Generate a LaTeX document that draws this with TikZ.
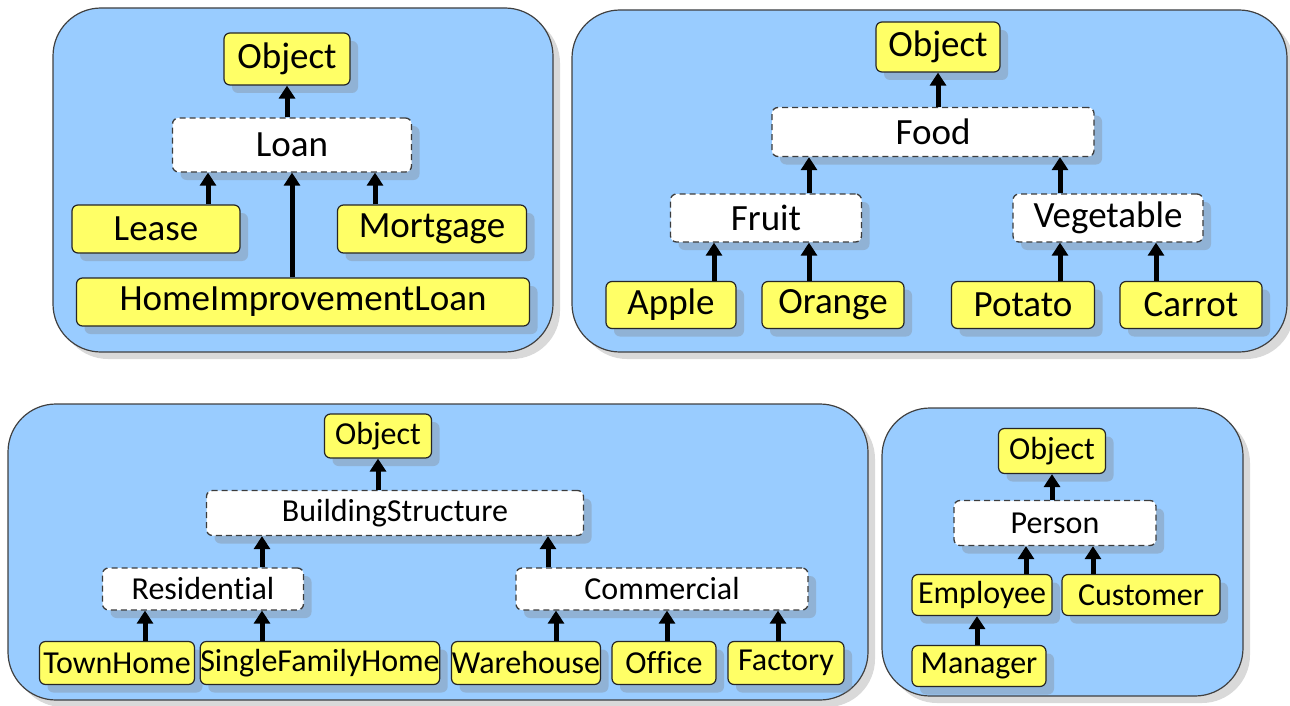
\documentclass[tikz,border=0pt]{standalone}
\usepackage{fontspec}
\setmainfont{Carlito}[Ligatures=NoCommon]
\usepackage{tikz}
\usetikzlibrary{arrows.meta,shadows}
\definecolor{panelblue}{RGB}{153,204,255}
\definecolor{nodeyellow}{RGB}{255,255,102}
\definecolor{dashgray}{RGB}{60,60,60}
\tikzset{every picture/.style={line width=0.75pt}}

\begin{document}
\begin{tikzpicture}[x=1pt,y=1pt,yscale=-1,xscale=1,
  panel/.style={draw=black!75, line width=1.2pt, fill=panelblue, rounded corners=48pt,
    drop shadow={shadow xshift=7pt, shadow yshift=-7pt, opacity=0.3}},
  cls/.style={draw=black!85, line width=1.2pt, fill=nodeyellow, rounded corners=6pt, inner sep=0pt,
    drop shadow={shadow xshift=8pt, shadow yshift=-8pt, opacity=0.33}},
  abs/.style={draw=dashgray, line width=1.3pt, dash pattern=on 6pt off 4pt, fill=white, rounded corners=6pt, inner sep=0pt,
    drop shadow={shadow xshift=8pt, shadow yshift=-8pt, opacity=0.33}},
  inh/.style={line width=5pt, -{Triangle[width=16pt,length=13pt]}},
  big/.style={font=\fontsize{37}{40}\selectfont},
  mid/.style={font=\fontsize{37}{40}\selectfont},
  small/.style={font=\fontsize{32}{35}\selectfont}]
\useasboundingbox (0,0) rectangle (1290,706);

%Panels
\draw [panel] (53,8) rectangle (553,352);
\draw [panel] (572,10) rectangle (1287,352);
\draw [panel] (8,404) rectangle (868,700);
\draw [panel] (882,408) rectangle (1243,696);

%Loan hierarchy
\node [cls,big,minimum width=126,minimum height=52] (objA) at (287,59) {Object};
\node [abs,big,minimum width=239,minimum height=54] (loan) at (292,145) {Loan};
\node [cls,big,minimum width=168,minimum height=48] (lease) at (156,229) {Lease};
\node [cls,big,minimum width=189,minimum height=48] (mortgage) at (432,229) {Mortgage};
\node [cls,big,minimum width=453,minimum height=48] (homeloan) at (303,302) {HomeImprovementLoan};
\draw [inh] (loan.north -| objA.south) -- (objA.south);
\draw [inh] ([xshift=52pt]lease.north) -- ([xshift=52pt]lease.north |- loan.south);
\draw [inh] ([xshift=-57pt]mortgage.north) -- ([xshift=-57pt]mortgage.north |- loan.south);
\draw [inh] (homeloan.north -| loan.south) -- (loan.south);

%Food hierarchy
\node [cls,mid,minimum width=124,minimum height=50] (objB) at (938,47) {Object};
\node [abs,mid,minimum width=322,minimum height=49] (food) at (933,132) {Food};
\node [abs,mid,minimum width=191,minimum height=48] (fruit) at (766,218) {Fruit};
\node [abs,mid,minimum width=190,minimum height=48] (vegetable) at (1108,218) {Vegetable};
\node [cls,mid,minimum width=130,minimum height=47] (apple) at (671,305) {Apple};
\node [cls,mid,minimum width=142,minimum height=47] (orange) at (833,305) {Orange};
\node [cls,mid,minimum width=143,minimum height=47] (potato) at (1023,305) {Potato};
\node [cls,mid,minimum width=142,minimum height=47] (carrot) at (1191,305) {Carrot};
\draw [inh] (food.north -| objB.south) -- (objB.south);
\draw [inh] ([xshift=43pt]fruit.north) -- ([xshift=43pt]fruit.north |- food.south);
\draw [inh] ([xshift=-48pt]vegetable.north) -- ([xshift=-48pt]vegetable.north |- food.south);
\draw [inh] ([xshift=43pt]apple.north) -- ([xshift=43pt]apple.north |- fruit.south);
\draw [inh] ([xshift=-24pt]orange.north) -- ([xshift=-24pt]orange.north |- fruit.south);
\draw [inh] ([xshift=37pt]potato.north) -- ([xshift=37pt]potato.north |- vegetable.south);
\draw [inh] ([xshift=-35pt]carrot.north) -- ([xshift=-35pt]carrot.north |- vegetable.south);

%Building hierarchy
\node [cls,small,minimum width=107,minimum height=44] (objC) at (378,436) {Object};
\node [abs,small,minimum width=377,minimum height=45] (building) at (395,513) {BuildingStructure};
\node [abs,small,minimum width=201,minimum height=42] (residential) at (203,589) {Residential};
\node [abs,small,minimum width=292,minimum height=42] (commercial) at (662,589) {Commercial};
\node [cls,small,minimum width=155,minimum height=43] (townhome) at (117,663) {TownHome};
\node [cls,small,minimum width=223,minimum height=43] (singlefamily) at (320,663) {SingleFamilyHome};
\node [cls,small,minimum width=149,minimum height=43] (warehouse) at (526,663) {Warehouse};
\node [cls,small,minimum width=104,minimum height=43] (office) at (664,663) {Office};
\node [cls,small,minimum width=116,minimum height=43] (factory) at (786,663) {Factory};
\draw [inh] (building.north -| objC.south) -- (objC.south);
\draw [inh] ([xshift=59pt]residential.north) -- ([xshift=59pt]residential.north |- building.south);
\draw [inh] ([xshift=-114pt]commercial.north) -- ([xshift=-114pt]commercial.north |- building.south);
\draw [inh] ([xshift=28pt]townhome.north) -- ([xshift=28pt]townhome.north |- residential.south);
\draw [inh] ([xshift=-58pt]singlefamily.north) -- ([xshift=-58pt]singlefamily.north |- residential.south);
\draw [inh] ([xshift=30pt]warehouse.north) -- ([xshift=30pt]warehouse.north |- commercial.south);
\draw [inh] ([xshift=3pt]office.north) -- ([xshift=3pt]office.north |- commercial.south);
\draw [inh] ([xshift=-8pt]factory.north) -- ([xshift=-8pt]factory.north |- commercial.south);

%Person hierarchy
\node [cls,small,minimum width=107,minimum height=45] (objD) at (1052,451) {Object};
\node [abs,small,minimum width=202,minimum height=45] (person) at (1055,523) {Person};
\node [cls,small,minimum width=140,minimum height=41] (employee) at (982,595) {Employee};
\node [cls,small,minimum width=158,minimum height=41] (customer) at (1141,595) {Customer};
\node [cls,small,minimum width=134,minimum height=41] (manager) at (979,666) {Manager};
\draw [inh] (person.north -| objD.south) -- (objD.south);
\draw [inh] ([xshift=44pt]employee.north) -- ([xshift=44pt]employee.north |- person.south);
\draw [inh] ([xshift=-48pt]customer.north) -- ([xshift=-48pt]customer.north |- person.south);
\draw [inh] ([xshift=-2pt]manager.north) -- ([xshift=-2pt]manager.north |- employee.south);
\end{tikzpicture}
\end{document}
